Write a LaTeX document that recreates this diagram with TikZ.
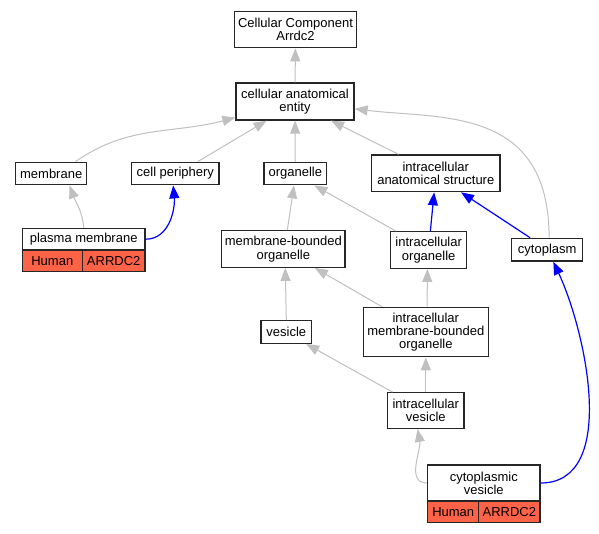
\documentclass[tikz,border=0pt]{standalone}
\usepackage{fontspec}
\setmainfont{Liberation Sans}
\usetikzlibrary{arrows.meta}
\definecolor{tomato}{HTML}{FF6347}
\definecolor{edgegray}{HTML}{C0C0C0}
\tikzset{
	term/.style={draw=black!85,line width=1.3pt,fill=white,inner sep=0pt,align=center,font=\fontsize{13}{13.3}\selectfont},
	gene/.style={term,fill=tomato},
	isa/.style={draw=edgegray,line width=1pt,-{Triangle[length=13pt,width=10pt,fill=edgegray]}},
	partof/.style={draw=blue,line width=1.2pt,-{Triangle[length=13pt,width=10pt,fill=blue]}}
}
\begin{document}
\begin{tikzpicture}[x=1pt,y=1pt]
					\useasboundingbox[fill=white] (0,0) rectangle (599,-533);
					%NODES
					\node[term,minimum width=122pt,minimum height=36pt] (cc) at (295.5,-29.7) {Cellular Component\\Arrdc2};
					\node[term,minimum width=118pt,minimum height=37pt] (cae) at (295,-101.5) {cellular anatomical\\entity};
					\node[term,minimum width=71pt,minimum height=22.5pt] (memb) at (51.2,-173.5) {membrane};
					\node[term,minimum width=87.5pt,minimum height=22.5pt] (cper) at (175.3,-173.5) {cell periphery};
					\node[term,minimum width=62.7pt,minimum height=22.5pt] (org) at (295.3,-173.5) {organelle};
					\node[term,minimum width=128.3pt,minimum height=36.7pt] (ias) at (435.8,-173.3) {intracellular\\anatomical structure};
					\node[term,minimum width=122.7pt,minimum height=21.7pt] (pm) at (83.7,-239.2) {plasma membrane};
					\node[gene,minimum width=60pt,minimum height=21.7pt] (pmsp) at (52.3,-260.8) {Human};
					\node[gene,minimum width=62.7pt,minimum height=21.7pt] (pmgn) at (113.7,-260.8) {ARRDC2};
					\node[term,minimum width=123.3pt,minimum height=36.6pt] (mbo) at (283.3,-249) {membrane-bounded\\organelle};
					\node[term,minimum width=76pt,minimum height=36.6pt] (io) at (428.7,-250) {intracellular\\organelle};
					\node[term,minimum width=71pt,minimum height=22.7pt] (cyt) at (547.2,-249.7) {cytoplasm};
					\node[term,minimum width=50.7pt,minimum height=22.6pt] (ves) at (286.3,-332) {vesicle};
					\node[term,minimum width=125pt,minimum height=49.4pt] (imbo) at (425.8,-332) {intracellular\\membrane-bounded\\organelle};
					\node[term,minimum width=76.3pt,minimum height=35.6pt] (iv) at (425.8,-410.5) {intracellular\\vesicle};
					\node[term,minimum width=112.3pt,minimum height=36pt] (cv) at (483.8,-483) {cytoplasmic\\vesicle};
					\node[gene,minimum width=51pt,minimum height=21.3pt] (cvsp) at (453.2,-511.7) {Human};
					\node[gene,minimum width=61.3pt,minimum height=21.3pt] (cvgn) at (509.3,-511.7) {ARRDC2};
					%EDGES
					\draw[isa] (cae) -- (cc);
					\draw[isa] (memb.26) to[out=35,in=195] (cae.195);
					\draw[isa] (cper.28) -- (cae.214);
					\draw[isa] (org) -- (cae);
					\draw[isa] (ias.153) -- (cae.332);
					\draw[isa] (cyt.81) to[out=90,in=-7,out looseness=1.45,in looseness=0.95] (cae.-7);
					\draw[isa] (pm.north) to[out=95,in=-70] (memb.-33);
					\draw[partof] (pm.east) to[out=0,in=-85] (cper.-100);
					\draw[isa] (mbo.78) -- (org.-96);
					\draw[isa] (io.150) -- (org.-32);
					\draw[partof] (io.85) -- (ias.-95);
					\draw[partof] (cyt.145) -- (ias.-37);
					\draw[isa] (imbo.150) -- (mbo.-31);
					\draw[isa] (imbo.87) -- (io.-94);
					\draw[isa] (ves.north) -- (mbo.-84);
					\draw[isa] (iv.151) -- (ves.-31);
					\draw[isa] (iv) -- (imbo);
					\draw[isa] (cv.west) to[out=180,in=-80] (iv.-114);
					\draw[partof] (cv.east) to[out=0,in=-65,looseness=0.9] (cyt.-63);
	  \end{tikzpicture}
\end{document}
